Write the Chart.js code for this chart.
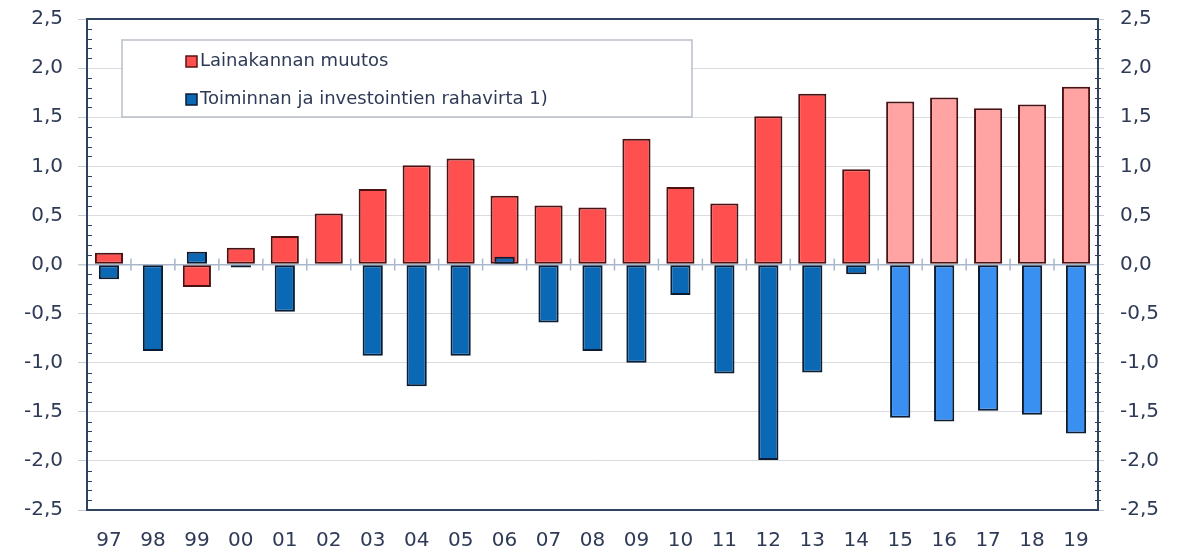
<!DOCTYPE html>
<html>
<head>
<meta charset="utf-8">
<title>Lainakannan muutos</title>
<script src="https://cdn.jsdelivr.net/npm/chart.js@4"></script>
<style>
  html, body { margin: 0; padding: 0; background: #fff; }
  canvas { display: block; }
</style>
</head>
<body>
<canvas id="loanChart" width="1183" height="556"></canvas>
<script>
// Years (vuodet), 15-19 are forecast
const years = ['97', '98', '99', '00', '01', '02', '03', '04', '05', '06', '07', '08',
    '09', '10', '11', '12', '13', '14', '15', '16', '17', '18', '19'];
const forecastFrom = '15';

const loanChange = [0.12, 0.0, -0.23, 0.17, 0.29, 0.52, 0.77, 1.01, 1.08, 0.70, 0.60, 0.58,
    1.28, 0.79, 0.62, 1.51, 1.74, 0.97, 1.66, 1.70, 1.59, 1.63, 1.81];
const cashFlow = [-0.15, -0.88, 0.13, -0.03, -0.48, 0.01, -0.93, -1.24, -0.93, 0.08, -0.59, -0.88,
    -1.00, -0.31, -1.11, -1.99, -1.10, -0.10, -1.56, -1.60, -1.49, -1.53, -1.72];

const yTicks = [-2.5, -2.0, -1.5, -1.0, -0.5, 0, 0.5, 1.0, 1.5, 2.0, 2.5];

const textColor = '#2e3a56';
const frameColor = '#2f4260';
const forecastStart = years.indexOf(forecastFrom);
const isForecast = (c) => c.dataIndex >= forecastStart;
const fmt = (v) => v.toFixed(1).replace('.', ',');

// frame, minor ticks, zero-line marks and the boxed legend inside the plot
const decorations = {
    id: 'decorations',
    afterDatasetsDraw(chart) {
        const { ctx, chartArea: a, scales } = chart;
        const y = scales.y, x = scales.x;
        ctx.save();

        // small marks on the zero line between categories
        const y0 = y.getPixelForValue(0);
        ctx.strokeStyle = '#a8b8cc';
        ctx.lineWidth = 1.5;
        for (let i = 0; i < years.length - 1; i++) {
            const bx = (x.getPixelForValue(i) + x.getPixelForValue(i + 1)) / 2;
            ctx.beginPath();
            ctx.moveTo(bx, y0 - 6);
            ctx.lineTo(bx, y0 + 6);
            ctx.stroke();
        }

        // minor ticks every 0.1
        ctx.strokeStyle = frameColor;
        ctx.lineWidth = 1;
        for (let k = -25; k <= 25; k++) {
            if (k % 5 === 0) continue;
            const py = Math.round(y.getPixelForValue(k / 10)) + 0.5;
            ctx.beginPath();
            ctx.moveTo(a.left, py);
            ctx.lineTo(a.left + 5, py);
            ctx.moveTo(a.right - 3, py);
            ctx.lineTo(a.right + 3, py);
            ctx.stroke();
        }

        // plot frame
        ctx.lineWidth = 2;
        ctx.strokeStyle = frameColor;
        ctx.strokeRect(a.left, a.top, a.right - a.left, a.bottom - a.top);

        // legend box
        const lx = a.left + 35, ly = a.top + 21, lw = 570, lh = 77;
        ctx.fillStyle = '#ffffff';
        ctx.fillRect(lx, ly, lw, lh);
        ctx.strokeStyle = '#b9bec8';
        ctx.lineWidth = 1.5;
        ctx.strokeRect(lx, ly, lw, lh);

        const items = [
            { text: chart.data.datasets[1].label, fill: '#ff4f4f', edge: '#5a1414' },
            { text: chart.data.datasets[0].label, fill: '#0a68b4', edge: '#0b1c33' }
        ];
        ctx.font = '18px "DejaVu Sans", Verdana, sans-serif';
        ctx.textBaseline = 'middle';
        items.forEach((it, i) => {
            const cy = ly + 21 + i * 38;
            ctx.fillStyle = it.fill;
            ctx.fillRect(lx + 64, cy - 5, 11, 11);
            ctx.strokeStyle = it.edge;
            ctx.lineWidth = 1.5;
            ctx.strokeRect(lx + 64, cy - 5, 11, 11);
            ctx.fillStyle = textColor;
            ctx.fillText(it.text, lx + 78, cy);
        });
        ctx.restore();
    }
};

const fitY = (w) => (s) => {
    s.width = w;
    s.paddingTop = 0;
    s.paddingBottom = 0;
};

const ctx = document.getElementById('loanChart').getContext('2d');

new Chart(ctx, {
    type: 'bar',
    data: {
        labels: years,
        datasets: [
            {
                label: 'Toiminnan ja investointien rahavirta 1)',
                data: cashFlow,
                backgroundColor: (c) => isForecast(c) ? '#3a90f0' : '#0a68b4',
                borderColor: '#0b1c33',
                borderWidth: 2,
                borderSkipped: false,
                grouped: false,
                barPercentage: 0.46,
                categoryPercentage: 1.0,
                order: 0
            },
            {
                label: 'Lainakannan muutos',
                data: loanChange,
                backgroundColor: (c) => isForecast(c) ? '#ffa3a3' : '#ff4f4f',
                borderColor: '#4a1212',
                borderWidth: 2,
                borderSkipped: false,
                grouped: false,
                barPercentage: 0.64,
                categoryPercentage: 1.0,
                order: 1
            }
        ]
    },
    options: {
        responsive: false,
        animation: false,
        devicePixelRatio: 1,
        layout: { padding: { top: 19, bottom: 0, left: 0, right: 0 } },
        plugins: {
            legend: { display: false },
            tooltip: { enabled: false }
        },
        scales: {
            x: {
                grid: { display: false },
                border: { display: false },
                ticks: {
                    color: textColor,
                    padding: 11,
                    font: { family: '"DejaVu Sans", Verdana, sans-serif', size: 20 }
                },
                afterFit: (s) => { s.height = 46; s.paddingLeft = 0; s.paddingRight = 0; }
            },
            y: {
                position: 'left',
                min: -2.5,
                max: 2.5,
                afterBuildTicks: (s) => { s.ticks = yTicks.map(v => ({ value: v })); },
                grid: {
                    color: (c) => c.tick && c.tick.value === 0 ? '#a9b7ca' : '#d9dbe0',
                    lineWidth: (c) => c.tick && c.tick.value === 0 ? 1.5 : 1,
                    tickColor: '#c6ccd6',
                    tickLength: 9
                },
                border: { display: false },
                ticks: {
                    color: textColor,
                    padding: 15,
                    callback: (v) => fmt(v),
                    font: { family: '"DejaVu Sans", Verdana, sans-serif', size: 20 }
                },
                afterFit: fitY(87)
            },
            y2: {
                position: 'right',
                min: -2.5,
                max: 2.5,
                afterBuildTicks: (s) => { s.ticks = yTicks.map(v => ({ value: v })); },
                grid: { drawOnChartArea: false, tickColor: '#c6ccd6', tickLength: 6 },
                border: { display: false },
                ticks: {
                    color: textColor,
                    padding: 16,
                    callback: (v) => fmt(v),
                    font: { family: '"DejaVu Sans", Verdana, sans-serif', size: 20 }
                },
                afterFit: fitY(85)
            }
        }
    },
    plugins: [decorations]
});
</script>
</body>
</html>
